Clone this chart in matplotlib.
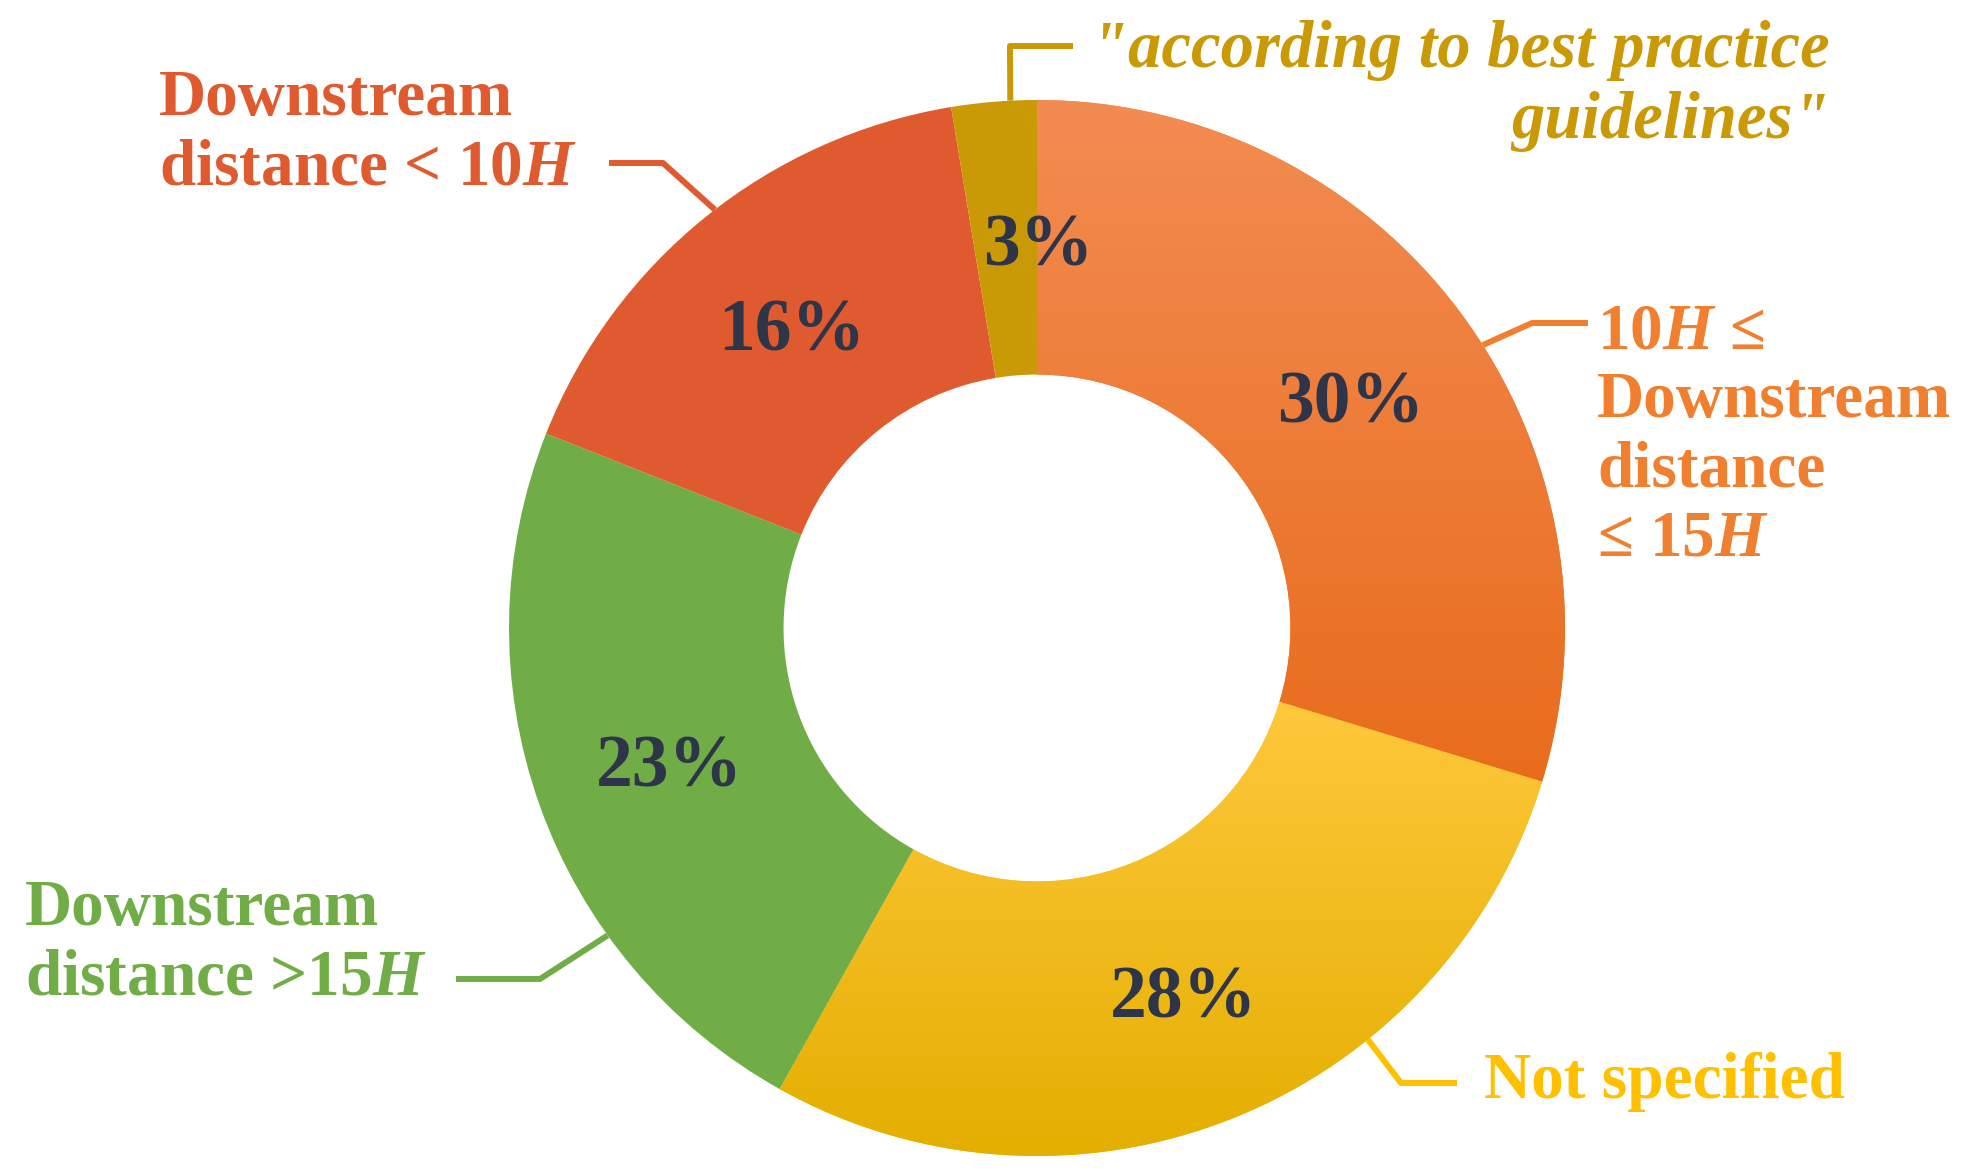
import numpy as np
import matplotlib.pyplot as plt
from matplotlib.colors import LinearSegmentedColormap

plt.rcParams['font.family'] = ['Liberation Serif', 'DejaVu Serif']
plt.rcParams['font.weight'] = 'bold'
plt.rcParams['mathtext.fontset'] = 'custom'
plt.rcParams['mathtext.rm'] = 'Liberation Serif:bold'
plt.rcParams['mathtext.it'] = 'Liberation Serif:italic:bold'

# ===============================
# Data (clockwise from 12 o'clock)
# ===============================
categories = ["10$H$ \u2264\nDownstream\ndistance\n\u2264 15$H$",
              "Not specified",
              "Downstream\ndistance >15$H$",
              "Downstream\ndistance < 10$H$",
              '"according to best practice\nguidelines"']
shares = [29.7, 28.4, 22.9, 16.4, 2.6]
slice_colors = ["#EF7D2E", "#FBC00E", "#70AD47", "#E05A2F", "#C99A06"]
label_colors = ["#F0802F", "#FFC000", "#70AD47", "#E05A2F", "#C99A06"]
gradients = {0: ("#F38C52", "#E86C1C"), 1: ("#FFC83C", "#E3AF00")}

# ===============================
# Figure in pixel units
# ===============================
W, H = 1961, 1174
fig = plt.figure(figsize=(W / 100, H / 100), dpi=100)
ax = fig.add_axes([0, 0, 1, 1])

cx, cy, R = 1037, H - 628, 528

wedges, texts, autotexts = ax.pie(
    shares, startangle=90, counterclock=False, colors=slice_colors,
    center=(cx, cy), radius=R, autopct="%.0f%%", pctdistance=0.74,
    wedgeprops=dict(width=R * 0.52, linewidth=0),
    textprops=dict(color="#2E3548", fontsize=53, fontweight="bold"),
    frame=True,
)
ax.set_xlim(0, W)
ax.set_ylim(0, H)
ax.set_aspect("equal")
ax.axis("off")

# percentage labels sit a touch lower; small slice label on the vertical
for t in autotexts:
    x, y = t.get_position()
    t.set_position((x, y - 9))
    t.set_zorder(5)
autotexts[4].set_x(cx + 1)

# vertical gradients on the orange / yellow slices
for i, (c_top, c_bot) in gradients.items():
    ext = wedges[i].get_path().get_extents()
    cmap = LinearSegmentedColormap.from_list("g%d" % i, [c_top, c_bot])
    grad = np.linspace(0, 1, 256).reshape(-1, 1)
    im = ax.imshow(grad, cmap=cmap, aspect="auto",
                   extent=[ext.x0, ext.x1, ext.y0, ext.y1], origin="upper", zorder=1.5)
    im.set_clip_path(wedges[i])
ax.set_xlim(0, W)
ax.set_ylim(0, H)

# ===============================
# Leader lines and category labels
# ===============================
# (angle on outer edge, elbow point, line end, text position, alignment, size)
leaders = [
    (32.4, (1532, 323), (1588, 323), (1597, 436), "left", 47),
    (-51.2, (1401, 1083), (1457, 1083), (1484, 1082), "left", 47),
    (215.6, (540, 979), (456, 979), (25, 944), "left", 47),
    (127.6, (663, 163), (609, 163), (159, 134), "left", 47),
    (92.9, (1010, 46), (1073, 46), (1830, 86), "right", 48),
]

for i, (ang, elbow, end, tpos, ha, fs) in enumerate(leaders):
    a = np.deg2rad(ang)
    sx, sy = cx + R * np.cos(a), cy + R * np.sin(a)
    xs = [sx, elbow[0], end[0]]
    ys = [sy, H - elbow[1], H - end[1]]
    ax.plot(xs, ys, color=label_colors[i], lw=4.3, solid_capstyle="butt", zorder=4)
    style = "italic" if i == 4 else "normal"
    ax.text(tpos[0], H - tpos[1], categories[i], color=label_colors[i],
            fontsize=fs, fontweight="bold", fontstyle=style, ha=ha, va="center",
            multialignment=ha, linespacing=1.2, zorder=5)

fig.savefig("out.png", dpi=100, facecolor="white")
